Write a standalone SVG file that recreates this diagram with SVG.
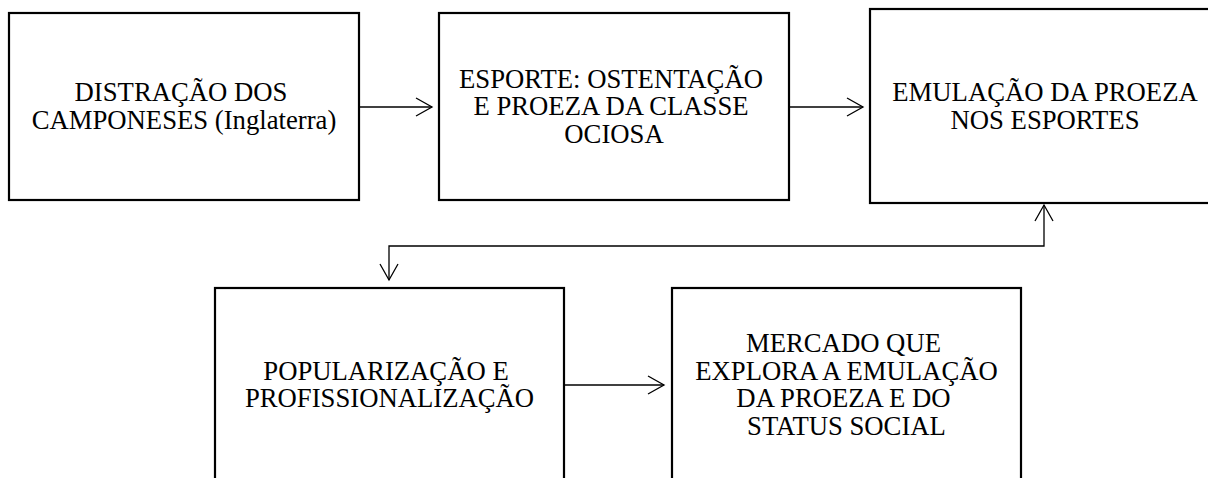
<svg xmlns="http://www.w3.org/2000/svg" width="1208" height="478" viewBox="0 0 1208 478">
  <style>
    .box { fill: #ffffff; stroke: #000000; stroke-width: 2.2; }
    .lbl { font-family: "Liberation Serif", "Times New Roman", serif; font-size: 26.7px; fill: #000000; text-anchor: middle; }
    .conn { fill: none; stroke: #000000; stroke-width: 1.3; }
  </style>
  <defs>
    <marker id="arr" markerUnits="userSpaceOnUse" markerWidth="20" markerHeight="22" refX="0" refY="0" viewBox="-18 -11 20 22" orient="auto-start-reverse" overflow="visible">
      <path d="M-16,-9 L0,0 L-16,9" fill="none" stroke="#000000" stroke-width="1.3"/>
    </marker>
  </defs>
  <rect width="1208" height="478" fill="#ffffff"/>
  <g id="connectors">
    <line class="conn" x1="359" y1="107" x2="432" y2="107" marker-end="url(#arr)"/>
    <line class="conn" x1="789" y1="107" x2="863" y2="107" marker-end="url(#arr)"/>
    <polyline class="conn" points="1044,205 1044,246 389,246 389,280" marker-start="url(#arr)" marker-end="url(#arr)"/>
    <line class="conn" x1="564" y1="385" x2="664" y2="385" marker-end="url(#arr)"/>
  </g>
  <g id="node1">
    <rect class="box" x="9" y="13" width="350" height="187"/>
    <text class="lbl"><tspan x="181" y="101">DISTRAÇÃO DOS</tspan><tspan x="184" y="128.5">CAMPONESES (Inglaterra)</tspan></text>
  </g>
  <g id="node2">
    <rect class="box" x="439" y="13" width="350" height="187"/>
    <text class="lbl"><tspan x="611" y="87.5">ESPORTE: OSTENTAÇÃO</tspan><tspan x="611" y="115">E PROEZA DA CLASSE</tspan><tspan x="614" y="142.5">OCIOSA</tspan></text>
  </g>
  <g id="node3">
    <rect class="box" x="870" y="9" width="350" height="194"/>
    <text class="lbl"><tspan x="1045" y="101">EMULAÇÃO DA PROEZA</tspan><tspan x="1045" y="128.5">NOS ESPORTES</tspan></text>
  </g>
  <g id="node4">
    <rect class="box" x="215" y="288" width="349" height="194"/>
    <text class="lbl"><tspan x="386" y="379.5">POPULARIZAÇÃO E</tspan><tspan x="389.5" y="407">PROFISSIONALIZAÇÃO</tspan></text>
  </g>
  <g id="node5">
    <rect class="box" x="672" y="288" width="349" height="194"/>
    <text class="lbl"><tspan x="843.5" y="352">MERCADO QUE</tspan><tspan x="846.5" y="379.5">EXPLORA A EMULAÇÃO</tspan><tspan x="843.5" y="407">DA PROEZA E DO</tspan><tspan x="846.5" y="434.5">STATUS SOCIAL</tspan></text>
  </g>
</svg>
